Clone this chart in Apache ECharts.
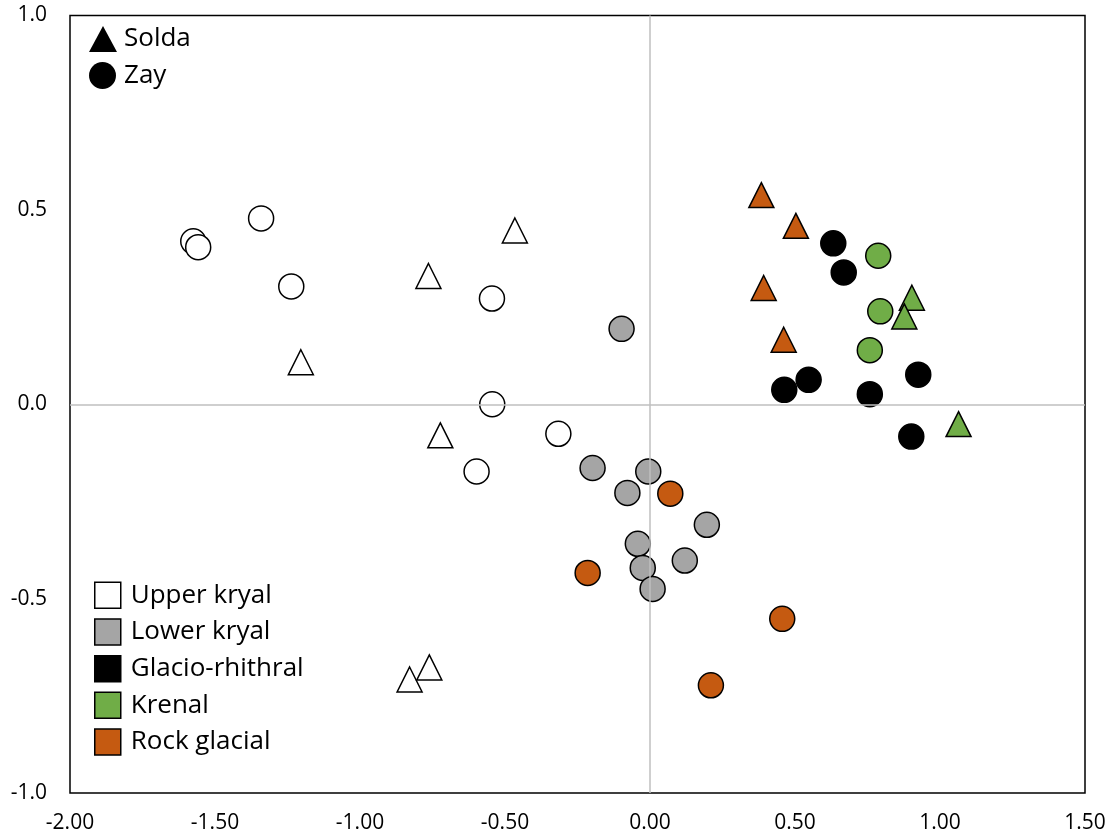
<!DOCTYPE html>
<html><head><meta charset="utf-8">
<script src="https://cdn.jsdelivr.net/npm/echarts@6/dist/echarts.min.js"></script>
<style>html,body{margin:0;padding:0;background:#fff}#c{width:1112px;height:838px}</style>
</head><body><div id="c"></div>
<script>
// ---- Data ----
const groups = ['Upper kryal', 'Lower kryal', 'Glacio-rhithral', 'Krenal', 'Rock glacial'];
const sites = ['Solda', 'Zay'];
const xTickLabels = ['-2.00', '-1.50', '-1.00', '-0.50', '0.00', '0.50', '1.00', '1.50'];
const yTickLabels = ['-1.0', '-0.5', '0.0', '0.5', '1.0'];

// Solda = triangles, Zay = circles
const upperKryalSolda = [[-0.466, 0.447], [-0.764, 0.330], [-1.204, 0.108], [-0.723, -0.080], [-0.829, -0.708], [-0.761, -0.677]];
const upperKryalZay = [[-1.575, 0.419], [-1.558, 0.404], [-1.341, 0.478], [-1.237, 0.303], [-0.545, 0.272], [-0.544, 0.000], [-0.316, -0.076], [-0.598, -0.173]];
const lowerKryalZay = [[-0.098, 0.194], [-0.198, -0.164], [-0.006, -0.173], [-0.078, -0.228], [0.196, -0.310], [-0.042, -0.359], [-0.025, -0.421], [0.120, -0.402], [0.009, -0.475]];
const glacioRhithralZay = [[0.632, 0.414], [0.668, 0.339], [0.547, 0.063], [0.463, 0.037], [0.925, 0.076], [0.758, 0.026], [0.901, -0.083]];
const krenalSolda = [[0.903, 0.274], [0.877, 0.226], [1.064, -0.051]];
const krenalZay = [[0.787, 0.382], [0.794, 0.239], [0.758, 0.139]];
const rockGlacialSolda = [[0.384, 0.538], [0.503, 0.459], [0.392, 0.299], [0.461, 0.166]];
const rockGlacialZay = [[0.070, -0.230], [-0.215, -0.434], [0.456, -0.552], [0.210, -0.723]];

// ---- Styles ----
const groupColors = ['#ffffff', '#a5a5a5', '#000000', '#70ad47', '#c55a11'];
const siteSymbols = ['triangle', 'circle'];
const FONT = 'Open Sans';

const pointSeries = [
  [0, 0, upperKryalSolda], [0, 1, upperKryalZay],
  [1, 1, lowerKryalZay],
  [2, 1, glacioRhithralZay],
  [3, 0, krenalSolda], [3, 1, krenalZay],
  [4, 0, rockGlacialSolda], [4, 1, rockGlacialZay]
].map(([g, s, d]) => ({
  type: 'scatter',
  name: groups[g] + ' (' + sites[s] + ')',
  data: d,
  symbol: siteSymbols[s],
  symbolSize: 25,
  z: 3,
  itemStyle: { color: groupColors[g], borderColor: '#000', borderWidth: 1.5, opacity: 1 },
  emphasis: { disabled: true }
}));

const legendSiteSeries = sites.map((s, i) => ({
  type: 'scatter', name: s, data: [], symbol: siteSymbols[i],
  itemStyle: { color: '#000', opacity: 1 }
}));
const legendGroupSeries = groups.map((g, i) => ({
  type: 'scatter', name: g, data: [], symbol: 'rect',
  itemStyle: { color: groupColors[i], borderColor: '#000', borderWidth: 1.5, opacity: 1 }
}));

const zeroLineSeries = {
  type: 'scatter', name: 'zero', data: [], z: 1, silent: true,
  markLine: {
    silent: true, symbol: ['none', 'none'], label: { show: false },
    lineStyle: { color: '#bfbfbf', width: 1.5, type: 'solid' },
    data: [{ xAxis: 0 }, { yAxis: 0 }]
  }
};

const legendText = (pad) => ({ fontSize: 26, color: '#000', fontFamily: FONT, lineHeight: 26, padding: pad });

const chart = echarts.init(document.getElementById('c'), null, { renderer: 'canvas' });
chart.setOption({
  animation: false,
  backgroundColor: '#fff',
  textStyle: { fontFamily: FONT },
  grid: { left: 70, right: 27, top: 15.5, bottom: 45, show: true, borderColor: '#000', borderWidth: 1.5, backgroundColor: 'transparent' },
  xAxis: {
    type: 'value', min: -2, max: 1.5, interval: 0.5,
    axisLine: { show: false }, axisTick: { show: false }, splitLine: { show: false },
    axisLabel: {
      margin: 20, fontSize: 21, color: '#000', fontFamily: FONT,
      formatter: v => xTickLabels[Math.round((v + 2) / 0.5)]
    }
  },
  yAxis: {
    type: 'value', min: -1, max: 1, interval: 0.5,
    axisLine: { show: false }, axisTick: { show: false }, splitLine: { show: false },
    axisLabel: {
      margin: 23, fontSize: 21, color: '#000', fontFamily: FONT,
      formatter: v => yTickLabels[Math.round((v + 1) / 0.5)]
    }
  },
  legend: [
    {
      orient: 'vertical', left: 89, top: 21, padding: 0,
      itemWidth: 28, itemHeight: 26, selectedMode: false,
      textStyle: legendText([10, 0, 0, 2]),
      data: [{ name: 'Solda', icon: 'triangle', itemStyle: { color: '#000', borderWidth: 0, opacity: 1 } }]
    },
    {
      orient: 'vertical', left: 89, top: 61, padding: 0,
      itemWidth: 27, itemHeight: 27, selectedMode: false,
      textStyle: legendText([3, 0, 0, 3]),
      data: [{ name: 'Zay', icon: 'circle', itemStyle: { color: '#000', borderWidth: 0, opacity: 1 } }]
    },
    {
      orient: 'vertical', left: 94, top: 581.5, padding: 0,
      itemWidth: 26, itemHeight: 26, itemGap: 9.2,
      selectedMode: false,
      textStyle: legendText([0, 0, 0, 5]),
      data: groups.map((g, i) => ({
        name: g, icon: 'rect',
        itemStyle: { color: groupColors[i], borderColor: '#000', borderWidth: 1.5, opacity: 1 }
      }))
    }
  ],
  series: [zeroLineSeries].concat(legendSiteSeries, legendGroupSeries, pointSeries)
});
</script>
</body></html>
